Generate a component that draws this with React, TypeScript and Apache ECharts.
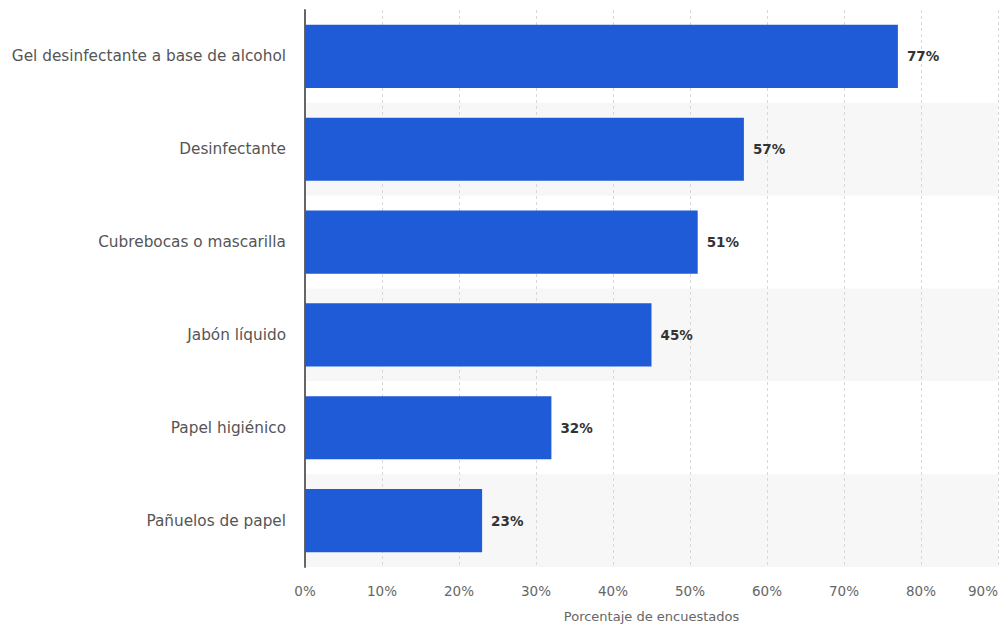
import React, { useEffect, useRef } from "react";
import * as echarts from "echarts";

const categories = [
  "Gel desinfectante a base de alcohol",
  "Desinfectante",
  "Cubrebocas o mascarilla",
  "Jabón líquido",
  "Papel higiénico",
  "Pañuelos de papel",
];
const values = [77, 57, 51, 45, 32, 23];
const axisTitle = "Porcentaje de encuestados";

const FONT = "DejaVu Sans";

export default function App() {
  const ref = useRef<HTMLDivElement>(null);
  useEffect(() => {
    const chart = echarts.init(ref.current!, undefined, { renderer: "svg" });
    chart.setOption({
      animation: false,
      textStyle: { fontFamily: FONT },
      grid: { left: 305, right: 3, top: 10, bottom: 61, outerBoundsMode: "none", containLabel: false },
      xAxis: {
        type: "value",
        min: 0,
        max: 90,
        interval: 10,
        name: axisTitle,
        nameLocation: "middle",
        nameGap: 43,
        nameTextStyle: { fontSize: 13, color: "#666", fontFamily: FONT },
        axisLabel: {
          formatter: "{value}%",
          fontSize: 13.5,
          color: "#666",
          margin: 17,
          fontFamily: FONT,
          alignMaxLabel: "right",
        },
        axisLine: { show: false },
        axisTick: { show: false },
        splitLine: { show: true, lineStyle: { type: [3, 3], color: "#d8d8d8", width: 1 } },
      },
      yAxis: {
        type: "category",
        data: categories,
        inverse: true,
        axisLabel: { fontSize: 15.3, color: "#555", margin: 19, fontFamily: FONT },
        axisLine: { show: true, lineStyle: { color: "#666", width: 2 } },
        axisTick: { show: false },
        splitArea: { show: true, areaStyle: { color: ["#ffffff", "#f7f7f7"] } },
      },
      series: [
        {
          type: "bar",
          data: values,
          barCategoryGap: "32%",
          itemStyle: { color: "#1f5bd6" },
          label: {
            show: true,
            position: "right",
            distance: 9,
            formatter: "{c}%",
            fontSize: 13.5,
            fontWeight: "bold",
            color: "#333",
            fontFamily: FONT,
          },
        },
      ],
    });
    return () => chart.dispose();
  }, []);
  return <div ref={ref} style={{ width: 1001, height: 628, position: "absolute", left: 0, top: 0 }} />;
}
